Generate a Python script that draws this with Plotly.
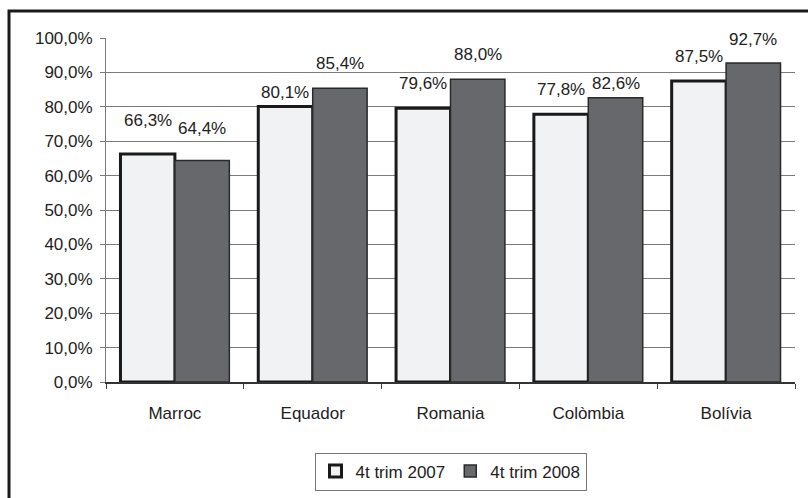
import plotly.graph_objects as go

categories = ["Marroc", "Equador", "Romania", "Colòmbia", "Bolívia"]
series_names = ["4t trim 2007", "4t trim 2008"]
values_2007 = [66.3, 80.1, 79.6, 77.8, 87.5]
values_2008 = [64.4, 85.4, 88.0, 82.6, 92.7]
y_ticks = [0, 10, 20, 30, 40, 50, 60, 70, 80, 90, 100]

# label lift above bar top (px), style only
lift_2007 = [33, 14, 25, 25, 25]
lift_2008 = [32, 25, 25, 14, 24]

FONT = "Liberation Sans"
W, H = 808, 498
ML, MR, MT, MB = 106, 13, 38, 116
BARGAP = 0.21
plot_w = W - ML - MR
plot_h = H - MT - MB
cat_w = plot_w / len(categories)
bar_w = cat_w * (1 - BARGAP) / 2


def fmt(v):
    return f"{v:.1f}".replace(".", ",") + "%"


fig = go.Figure()
fig.add_trace(go.Bar(
    x=categories, y=values_2007, name=series_names[0],
    marker=dict(color="#f1f2f4", line=dict(color="#1a1a1a", width=3)),
))
fig.add_trace(go.Bar(
    x=categories, y=values_2008, name=series_names[1],
    marker=dict(color="#67686c", line=dict(color="#2a2a2a", width=1.5)),
))

annotations = []
for vals, lifts, sign in ((values_2007, lift_2007, -1), (values_2008, lift_2008, 1)):
    for c, v, l in zip(categories, vals, lifts):
        annotations.append(dict(
            x=c, y=v, xref="x", yref="y", text=fmt(v), showarrow=False,
            xshift=sign * bar_w / 2, yshift=l, yanchor="middle",
            font=dict(family=FONT, size=17, color="#222"),
        ))

fig.update_layout(
    width=W, height=H,
    margin=dict(l=ML, r=MR, t=MT, b=MB, autoexpand=False),
    paper_bgcolor="white", plot_bgcolor="white",
    barmode="group", bargap=BARGAP, bargroupgap=0,
    font=dict(family=FONT, size=17, color="#222"),
    showlegend=True,
    legend=dict(
        orientation="h", x=0.5, xanchor="center", y=-0.205, yanchor="top",
        bordercolor="#777", borderwidth=1, bgcolor="white",
        font=dict(family=FONT, size=17, color="#222"),
        itemwidth=30,
    ),
    annotations=annotations,
    shapes=[dict(
        type="rect", xref="paper", yref="paper",
        x0=(9 - ML) / plot_w, x1=1.25, y0=-0.5, y1=(H - MB - 11) / plot_h,
        line=dict(color="#1a1a1a", width=3), fillcolor="rgba(0,0,0,0)",
        layer="below",
    )],
)
fig.update_yaxes(
    range=[0, 100], tickvals=y_ticks, ticktext=[fmt(t) for t in y_ticks],
    showgrid=True, gridcolor="#7a7a7a", gridwidth=1,
    showline=True, linecolor="#7a7a7a", linewidth=1,
    ticks="outside", ticklen=5, tickcolor="#7a7a7a", ticklabelstandoff=4,
    zeroline=False, tickfont=dict(family=FONT, size=17), automargin=False,
)
fig.update_xaxes(
    showline=True, linecolor="#333", linewidth=1.5,
    ticks="outside", ticklen=5, tickcolor="#444", tickson="boundaries",
    ticklabelstandoff=15,
    showgrid=False, tickfont=dict(family=FONT, size=17), automargin=False,
)

fig.write_html("out.html", config={"displayModeBar": False},
               post_script="document.body.style.margin='0';")
